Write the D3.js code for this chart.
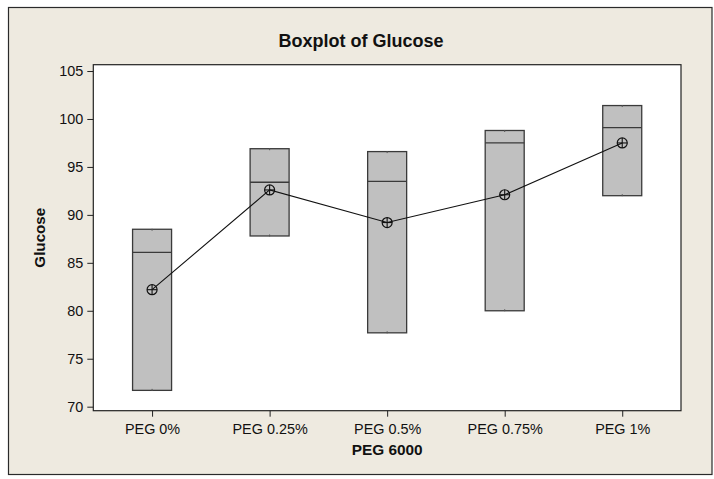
<!DOCTYPE html>
<html>
<head>
<meta charset="utf-8">
<script src="https://cdn.jsdelivr.net/npm/d3@7"></script>
<style>
  html, body { margin: 0; padding: 0; background: #ffffff; }
  svg { display: block; }
</style>
</head>
<body>
<script>
// ---- data ----
const categories = ["PEG 0%", "PEG 0.25%", "PEG 0.5%", "PEG 0.75%", "PEG 1%"];
const boxLow    = [71.7, 87.8, 77.7, 80.0, 92.0];   // Q1 (= min)
const medians   = [86.1, 93.4, 93.5, 97.5, 99.1];
const boxHigh   = [88.5, 96.9, 96.6, 98.8, 101.4];  // Q3 (= max)
const means     = [82.2, 92.6, 89.2, 92.1, 97.5];
const yTicks    = [70, 75, 80, 85, 90, 95, 100, 105];
const chartTitle = "Boxplot of Glucose";
const xTitle = "PEG 6000";
const yTitle = "Glucose";

// ---- layout ----
const W = 714, H = 479;
const plot = { left: 93.3, right: 681, top: 64.7, bottom: 410.7 };
const FONT = "'Liberation Sans', Arial, sans-serif";
const boxW = 39;

const svg = d3.select("body").append("svg").attr("width", W).attr("height", H);

// outer panel
svg.append("rect").attr("x", 8.5).attr("y", 7.5).attr("width", 703.5).attr("height", 467)
  .attr("fill", "#eeeae0").attr("stroke", "#2a2a2a").attr("stroke-width", 1.2);

// plot area
svg.append("rect").attr("x", plot.left).attr("y", plot.top)
  .attr("width", plot.right - plot.left).attr("height", plot.bottom - plot.top)
  .attr("fill", "#ffffff");

const x = d3.scalePoint().domain(categories).range([plot.left, plot.right]).padding(0.5);
const y = d3.scaleLinear().domain([69.58, 105.66]).range([plot.bottom, plot.top]);

// y axis
const yAxis = svg.append("g").attr("transform", `translate(${plot.left},0)`)
  .call(d3.axisLeft(y).tickValues(yTicks).tickSize(6).tickPadding(4).tickFormat(d3.format("d")));
yAxis.select(".domain").remove();
yAxis.selectAll("line").attr("stroke", "#222");
yAxis.selectAll("text").attr("font-family", FONT).attr("font-size", 14.4).attr("fill", "#111");

// x axis
const xAxis = svg.append("g").attr("transform", `translate(0,${plot.bottom})`)
  .call(d3.axisBottom(x).tickSize(6).tickPadding(7));
xAxis.select(".domain").remove();
xAxis.selectAll("line").attr("stroke", "#222");
xAxis.selectAll("text").attr("font-family", FONT).attr("font-size", 14.4).attr("fill", "#111");

// boxes
const data = categories.map((c, i) => ({ c, lo: boxLow[i], md: medians[i], hi: boxHigh[i], mn: means[i] }));
const g = svg.append("g");
g.selectAll("rect.box").data(data).enter().append("rect").attr("class", "box")
  .attr("x", d => x(d.c) - boxW / 2).attr("width", boxW)
  .attr("y", d => y(d.hi)).attr("height", d => y(d.lo) - y(d.hi))
  .attr("fill", "#c0c0c0").attr("stroke", "#3a3a3a").attr("stroke-width", 1.3);
g.selectAll("line.med").data(data).enter().append("line").attr("class", "med")
  .attr("x1", d => x(d.c) - boxW / 2).attr("x2", d => x(d.c) + boxW / 2)
  .attr("y1", d => y(d.md)).attr("y2", d => y(d.md))
  .attr("stroke", "#3a3a3a").attr("stroke-width", 1.3);
// tiny whisker stubs
g.selectAll("line.wt").data(data).enter().append("line")
  .attr("x1", d => x(d.c)).attr("x2", d => x(d.c))
  .attr("y1", d => y(d.hi) - 0.5).attr("y2", d => y(d.hi) + 1.5).attr("stroke", "#555");
g.selectAll("line.wb").data(data).enter().append("line")
  .attr("x1", d => x(d.c)).attr("x2", d => x(d.c))
  .attr("y1", d => y(d.lo) - 1.5).attr("y2", d => y(d.lo) + 0.5).attr("stroke", "#555");

// mean connect line
const line = d3.line().x(d => x(d.c)).y(d => y(d.mn));
svg.append("path").datum(data).attr("d", line).attr("fill", "none")
  .attr("stroke", "#111").attr("stroke-width", 1.1);

// mean symbols
const ms = svg.append("g").selectAll("g").data(data).enter().append("g")
  .attr("transform", d => `translate(${x(d.c)},${y(d.mn)})`);
ms.append("circle").attr("r", 5).attr("fill", "none").attr("stroke", "#111").attr("stroke-width", 1.2);
ms.append("line").attr("x1", -5).attr("x2", 5).attr("stroke", "#111").attr("stroke-width", 1.1);
ms.append("line").attr("y1", -5).attr("y2", 5).attr("stroke", "#111").attr("stroke-width", 1.1);

// plot frame
svg.append("rect").attr("x", plot.left).attr("y", plot.top)
  .attr("width", plot.right - plot.left).attr("height", plot.bottom - plot.top)
  .attr("fill", "none").attr("stroke", "#222").attr("stroke-width", 1.2);

// titles
svg.append("text").attr("x", 361).attr("y", 47.3).attr("text-anchor", "middle")
  .attr("font-family", FONT).attr("font-weight", "bold").attr("font-size", 18).attr("fill", "#111")
  .text(chartTitle);
svg.append("text").attr("x", (plot.left + plot.right) / 2).attr("y", 455).attr("text-anchor", "middle")
  .attr("font-family", FONT).attr("font-weight", "bold").attr("font-size", 15.4).attr("fill", "#111")
  .text(xTitle);
svg.append("text").attr("transform", `translate(44.5,${(plot.top + plot.bottom) / 2}) rotate(-90)`)
  .attr("text-anchor", "middle")
  .attr("font-family", FONT).attr("font-weight", "bold").attr("font-size", 15.2).attr("fill", "#111")
  .text(yTitle);
</script>
</body>
</html>
